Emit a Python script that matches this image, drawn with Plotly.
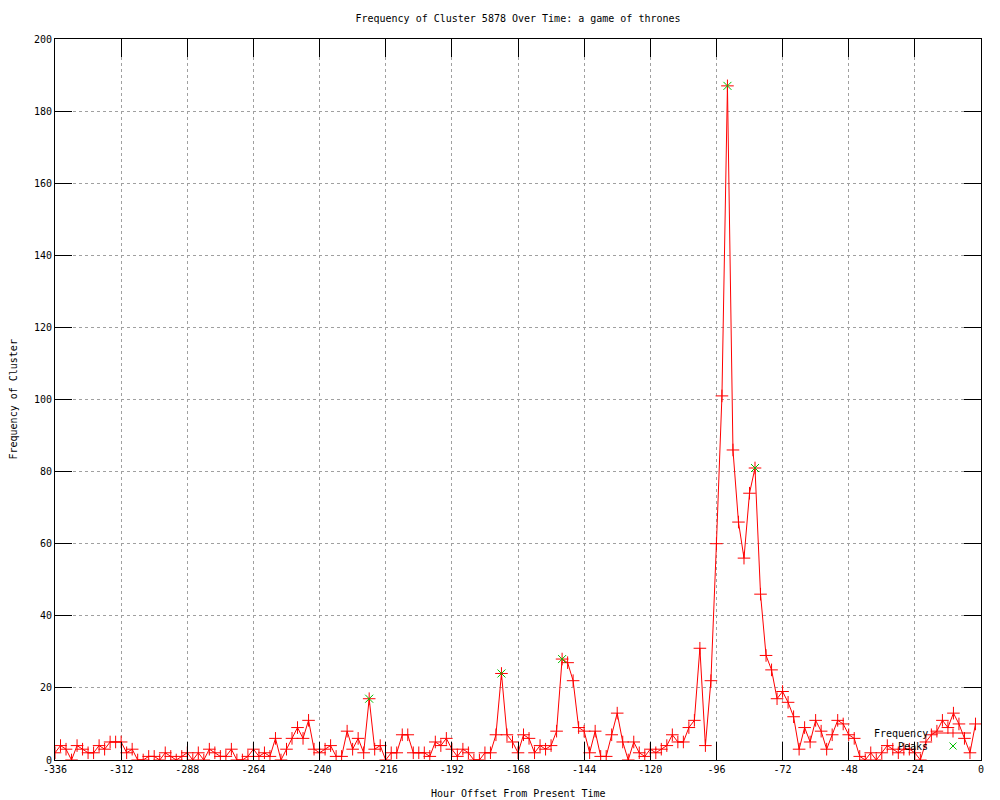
import plotly.graph_objects as go

# ---------------- data ----------------
hours = [-336, -334, -332, -330, -328, -326, -324, -322, -320, -318, -316, -314, -312, -310, -308, -306,
         -304, -302, -300, -298, -296, -294, -292, -290, -288, -286, -284, -282, -280, -278, -276, -274,
         -272, -270, -268, -266, -264, -262, -260, -258, -256, -254, -252, -250, -248, -246, -244, -242,
         -240, -238, -236, -234, -232, -230, -228, -226, -224, -222, -220, -218, -216, -214, -212, -210,
         -208, -206, -204, -202, -200, -198, -196, -194, -192, -190, -188, -186, -184, -182, -180, -178,
         -176, -174, -172, -170, -168, -166, -164, -162, -160, -158, -156, -154, -152, -150, -148, -146,
         -144, -142, -140, -138, -136, -134, -132, -130, -128, -126, -124, -122, -120, -118, -116, -114,
         -112, -110, -108, -106, -104, -102, -100, -98, -96, -94, -92, -90, -88, -86, -84, -82,
         -80, -78, -76, -74, -72, -70, -68, -66, -64, -62, -60, -58, -56, -54, -52, -50,
         -48, -46, -44, -42, -40, -38, -36, -34, -32, -30, -28, -26, -24, -22, -20, -18,
         -16, -14, -12, -10, -8, -6, -4, -2]

frequency = [2, 4, 3, 0, 4, 3, 2, 2, 4, 3, 5, 5, 5, 2, 3, 0, 0, 1, 1, 0, 2, 1, 0, 1, 2, 0, 2, 0, 3, 2,
             1, 1, 3, 0, 0, 1, 3, 1, 2, 1,
             6, 0, 3, 6, 9, 6, 11, 3, 2, 3, 4, 1, 1, 8, 3, 6, 2, 17, 3, 4, 0, 2, 2, 7, 7, 2, 2, 2, 1, 5,
             4, 6, 3, 1, 3, 2, 0, 0, 2, 2, 7,
             24, 7, 5, 2, 7, 6, 2, 4, 3, 4, 8, 28, 27, 22, 9, 8, 2, 8, 1, 1, 7, 13, 5, 0, 5, 2, 1, 3, 2, 3,
             4, 7, 5, 5, 9, 11, 31, 4, 22,
             60, 101, 187, 86, 66, 56, 74, 81, 46, 29, 25, 17, 19, 16, 12, 3, 9, 5, 11, 8, 3, 7, 11, 10, 7,
             6, 1, 0, 2, 0, 2, 4, 3, 2, 3, 3, 2, 0, 5, 7, 8, 11, 9, 13, 10, 6, 2, 10]

peak_hours = [-222, -174, -152, -92, -82]
peak_values = [17, 24, 28, 187, 81]

x_ticks = [-336, -312, -288, -264, -240, -216, -192, -168, -144, -120, -96, -72, -48, -24, 0]
y_ticks = [0, 20, 40, 60, 80, 100, 120, 140, 160, 180, 200]

title_text = "Frequency of Cluster 5878 Over Time: a game of thrones"
x_title = "Hour Offset From Present Time"
y_title = "Frequency of Cluster"
legend_names = ["Frequency", "Peaks"]

RED = "#ff0000"
GREEN = "#00c000"
FONT = "DejaVu Sans Mono"

# ---------------- figure ----------------
fig = go.Figure()
fig.add_trace(go.Scatter(
    x=hours, y=frequency, mode="lines+markers", name=legend_names[0],
    line=dict(color=RED, width=1),
    marker=dict(symbol="cross-thin", size=9, color=RED, line=dict(color=RED, width=1)),
    showlegend=False,
))
fig.add_trace(go.Scatter(
    x=peak_hours, y=peak_values, mode="markers", name=legend_names[1],
    marker=dict(symbol="x-thin", size=8, color=GREEN, line=dict(color=GREEN, width=1)),
    showlegend=False,
))

# the page body has an 8px margin, so the figure is placed at (8, 8)
OFF = 8
W, H = 1000 - OFF, 800 - OFF
L, R, T, B = 55 - OFF, 19, 39 - OFF, 40
PW, PH = W - L - R, H - T - B


def px_x(px):
    return (px - OFF - L) / PW


def px_y(py):
    return (H - B - (py - OFF)) / PH


axis_common = dict(
    showline=True, linecolor="black", linewidth=1, mirror="ticks",
    ticks="inside", tickcolor="black", tickwidth=1,
    showgrid=True, gridcolor="#a0a0a0", gridwidth=1, griddash="3px,3px",
    zeroline=False, tickfont=dict(family=FONT, size=10, color="black"),
)

fig.update_xaxes(range=[-336, 0], tickvals=x_ticks, ticktext=[str(v) for v in x_ticks],
                 ticklen=18, **axis_common)
fig.update_yaxes(range=[0, 200], tickvals=y_ticks, ticktext=[str(v) for v in y_ticks],
                 ticklen=17, **axis_common)

annotations = [
    dict(text=x_title, xref="paper", yref="paper", x=0.5, y=0, yshift=-33,
         xanchor="center", yanchor="middle", showarrow=False),
    dict(text=y_title, xref="paper", yref="paper", x=0, y=0.5, xshift=-42, textangle=-90,
         xanchor="center", yanchor="middle", showarrow=False),
    dict(text=legend_names[0], xref="paper", yref="paper", x=px_x(930), y=px_y(733),
         xanchor="right", yanchor="middle", showarrow=False),
    dict(text=legend_names[1], xref="paper", yref="paper", x=px_x(930), y=px_y(746),
         xanchor="right", yanchor="middle", showarrow=False),
]

sx = px_x(953)
shapes = [
    # Frequency sample line
    dict(type="line", xref="paper", yref="paper", x0=px_x(932), x1=px_x(971),
         y0=px_y(733), y1=px_y(733), line=dict(color=RED, width=1)),
    # + marker
    dict(type="line", xref="paper", yref="paper", xsizemode="pixel", ysizemode="pixel",
         xanchor=sx, yanchor=px_y(733), x0=0, x1=0, y0=-4.5, y1=4.5, line=dict(color=RED, width=1)),
    # x marker (Peaks)
    dict(type="line", xref="paper", yref="paper", xsizemode="pixel", ysizemode="pixel",
         xanchor=sx, yanchor=px_y(746), x0=-3.5, x1=3.5, y0=-3.5, y1=3.5, line=dict(color=GREEN, width=1)),
    dict(type="line", xref="paper", yref="paper", xsizemode="pixel", ysizemode="pixel",
         xanchor=sx, yanchor=px_y(746), x0=-3.5, x1=3.5, y0=3.5, y1=-3.5, line=dict(color=GREEN, width=1)),
]

fig.update_layout(
    width=W, height=H,
    margin=dict(l=L, r=R, t=T, b=B, pad=0),
    paper_bgcolor="white", plot_bgcolor="white",
    font=dict(family=FONT, size=10, color="black"),
    title=dict(text=title_text, x=0.5, xref="paper", xanchor="center",
               y=1 - (18 - OFF) / H, yref="container", yanchor="middle",
               font=dict(family=FONT, size=10, color="black")),
    annotations=annotations,
    shapes=shapes,
    showlegend=False,
)

fig.write_html("out.html")
